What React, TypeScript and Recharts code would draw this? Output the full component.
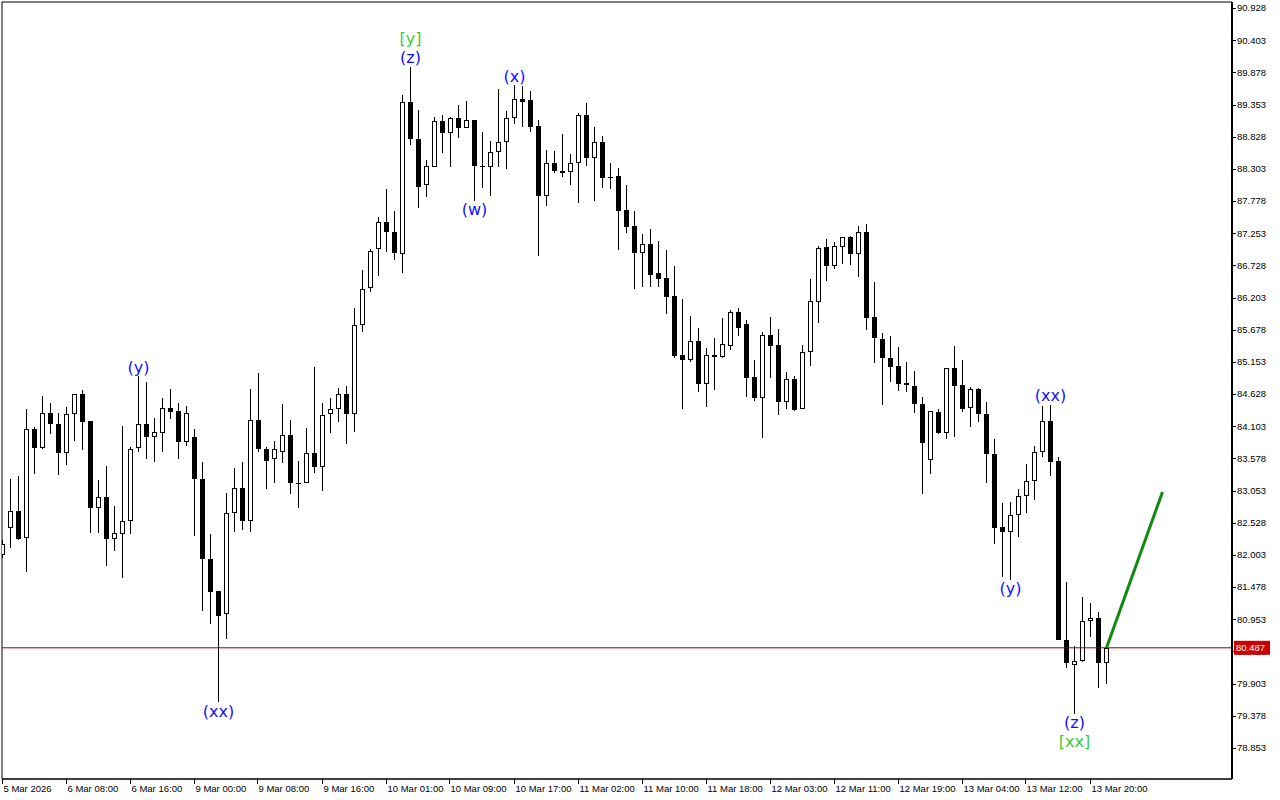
import React from 'react';
import {
  ComposedChart,
  Bar,
  Line,
  Scatter,
  XAxis,
  YAxis,
  ReferenceLine,
  ReferenceArea,
} from 'recharts';

// hourly bars, 5 Mar 23:00 .. 13 Mar 22:00
const opens = [
  82.0, 82.44, 82.72, 82.28, 84.06, 83.75, 84.32, 84.14, 83.67, 84.3,
  84.63, 84.19, 82.77, 82.95, 82.26, 82.35, 82.56, 83.75, 84.14, 83.93,
  83.99, 84.4, 84.35, 83.85, 83.93, 83.24, 81.94, 81.41, 81.04, 82.69,
  83.1, 82.56, 84.21, 83.73, 83.57, 83.68, 83.96, 83.18, 83.18, 83.67,
  83.44, 84.3, 84.38, 84.63, 84.3, 85.76, 86.36, 87.0, 87.44, 87.27,
  86.91, 89.39, 88.79, 88.04, 88.33, 89.08, 88.89, 89.13, 88.97, 89.1,
  88.35, 88.33, 88.58, 88.74, 89.13, 89.44, 89.43, 89.0, 87.86, 88.4,
  88.27, 88.25, 88.4, 89.18, 88.48, 88.74, 88.17, 88.19, 87.63, 87.37,
  86.93, 87.08, 86.6, 86.52, 86.23, 85.27, 85.18, 85.49, 84.79, 85.27,
  85.23, 85.41, 85.97, 85.77, 84.91, 84.56, 85.59, 85.43, 84.5, 84.87,
  84.38, 85.31, 86.13, 87.03, 86.72, 87.03, 87.19, 86.91, 87.27, 85.89,
  85.53, 85.22, 85.09, 84.81, 84.76, 84.47, 83.55, 84.34, 83.99, 85.05,
  84.78, 84.4, 84.71, 84.3, 83.65, 82.46, 82.38, 82.66, 82.97, 83.21,
  83.68, 84.19, 83.54, 80.62, 80.21, 80.27, 80.93, 80.97, 80.24,
];
const highs = [
  82.25, 83.24, 83.29, 84.38, 84.09, 84.6, 84.48, 84.32, 84.42, 84.63,
  84.69, 84.19, 83.23, 83.46, 82.8, 84.11, 83.77, 84.92, 84.83, 84.24,
  84.56, 84.71, 84.48, 84.43, 84.06, 83.52, 82.35, 81.41, 83.01, 83.42,
  83.52, 84.71, 84.97, 83.77, 83.86, 84.47, 84.21, 83.54, 84.08, 85.07,
  84.48, 84.56, 84.73, 84.76, 86.03, 86.65, 87.0, 87.52, 87.97, 87.62,
  89.51, 89.97, 89.26, 88.45, 89.15, 89.18, 89.15, 89.35, 89.41, 89.1,
  88.91, 88.76, 89.61, 89.25, 89.67, 89.66, 89.57, 89.1, 88.61, 88.6,
  88.87, 88.55, 89.22, 89.38, 88.99, 88.84, 88.4, 88.32, 88.04, 87.62,
  87.24, 87.32, 87.13, 86.98, 86.72, 86.18, 85.9, 85.71, 85.38, 85.54,
  85.87, 86.0, 86.03, 85.84, 85.18, 85.64, 85.89, 85.69, 84.99, 84.92,
  85.43, 86.51, 87.04, 87.16, 87.11, 87.19, 87.21, 87.37, 87.4, 86.46,
  85.63, 85.58, 85.4, 85.15, 85.01, 84.58, 84.35, 84.38, 85.05, 85.41,
  85.18, 84.74, 84.73, 84.5, 83.9, 82.85, 82.87, 83.08, 83.49, 83.78,
  84.43, 84.45, 83.6, 81.56, 80.52, 81.32, 81.22, 81.07, 80.5,
];
const lows = [
  81.95, 82.12, 82.25, 81.73, 83.32, 83.73, 83.98, 83.31, 83.47, 83.86,
  83.72, 82.36, 82.36, 81.82, 82.07, 81.63, 82.35, 83.68, 83.57, 83.52,
  83.68, 84.22, 83.57, 83.78, 82.31, 81.09, 80.88, 79.6, 80.63, 82.38,
  82.41, 82.38, 83.68, 83.08, 83.18, 83.5, 83.0, 82.77, 83.18, 83.34,
  83.05, 83.99, 84.17, 83.81, 84.01, 85.64, 86.29, 86.55, 86.95, 86.82,
  86.6, 88.69, 87.67, 87.84, 88.33, 88.56, 88.33, 88.81, 88.97, 87.78,
  87.99, 87.86, 88.33, 88.3, 89.04, 88.99, 88.91, 86.88, 87.7, 88.24,
  88.17, 88.04, 87.75, 88.35, 87.78, 87.99, 87.98, 86.98, 87.26, 86.34,
  86.38, 86.38, 86.38, 85.94, 85.22, 84.38, 85.15, 84.66, 84.42, 84.69,
  85.22, 85.35, 85.58, 84.58, 84.52, 83.91, 84.89, 84.29, 84.38, 84.35,
  84.38, 85.09, 85.79, 86.47, 86.67, 86.75, 86.73, 86.54, 85.67, 85.14,
  84.45, 84.83, 84.68, 84.66, 84.32, 83.0, 83.32, 83.98, 83.9, 83.93,
  84.34, 84.09, 84.17, 83.18, 82.18, 81.64, 81.6, 82.3, 82.69, 82.9,
  83.6, 83.29, 80.62, 80.16, 79.41, 80.26, 80.66, 79.83, 79.9,
];
const closes = [
  82.18, 82.72, 82.26, 84.06, 83.75, 84.32, 84.14, 83.67, 84.3, 84.63,
  84.17, 82.77, 82.95, 82.26, 82.36, 82.56, 83.73, 84.14, 83.93, 84.01,
  84.4, 84.34, 83.85, 84.32, 83.24, 81.94, 81.4, 81.01, 82.69, 83.1,
  82.56, 84.21, 83.73, 83.54, 83.73, 83.96, 83.18, 83.17, 83.67, 83.44,
  84.29, 84.38, 84.63, 84.3, 85.76, 86.34, 86.96, 87.44, 87.27, 86.93,
  89.39, 88.79, 88.01, 88.35, 89.08, 88.89, 89.13, 88.97, 89.1, 88.35,
  88.33, 88.58, 88.74, 89.13, 89.44, 89.39, 88.99, 87.86, 88.4, 88.27,
  88.24, 88.4, 89.18, 88.48, 88.74, 88.15, 88.16, 87.62, 87.35, 86.93,
  87.08, 86.57, 86.51, 86.21, 85.25, 85.18, 85.49, 84.79, 85.27, 85.23,
  85.45, 85.97, 85.71, 84.89, 84.56, 85.59, 85.41, 84.5, 84.87, 84.37,
  85.31, 86.15, 87.01, 86.72, 87.04, 87.19, 86.91, 87.27, 85.87, 85.54,
  85.22, 85.07, 84.79, 84.78, 84.47, 83.83, 84.35, 83.99, 85.05, 84.76,
  84.38, 84.71, 84.3, 83.65, 82.44, 82.38, 82.66, 82.97, 83.21, 83.68,
  84.19, 83.52, 80.62, 80.24, 80.27, 80.93, 80.97, 80.24, 80.487,
];

const timeTicks = [0, 8, 16, 24, 32, 40, 48, 56, 64, 72, 80, 88, 96, 104, 112, 120, 128, 136];
const timeLabels = [
  '5 Mar 2026', '6 Mar 08:00', '6 Mar 16:00', '9 Mar 00:00', '9 Mar 08:00',
  '9 Mar 16:00', '10 Mar 01:00', '10 Mar 09:00', '10 Mar 17:00', '11 Mar 02:00',
  '11 Mar 10:00', '11 Mar 18:00', '12 Mar 03:00', '12 Mar 11:00', '12 Mar 19:00',
  '13 Mar 04:00', '13 Mar 12:00', '13 Mar 20:00',
];
const priceTicks = [
  90.928, 90.403, 89.878, 89.353, 88.828, 88.303, 87.778, 87.253, 86.728,
  86.203, 85.678, 85.153, 84.628, 84.103, 83.578, 83.053, 82.528, 82.003,
  81.478, 80.953, 80.428, 79.903, 79.378, 78.853,
];
const lastPrice = 80.487;
const projection = [
  { i: 138, v: 80.487 },
  { i: 145, v: 83.03 },
];
const waveLabels = [
  { i: 17, text: '(y)', degree: 'minor', side: 'high' },
  { i: 27, text: '(xx)', degree: 'minor', side: 'low' },
  { i: 51, text: '(z)', degree: 'minor', side: 'high' },
  { i: 51, text: '[y]', degree: 'major', side: 'high' },
  { i: 59, text: '(w)', degree: 'minor', side: 'low' },
  { i: 64, text: '(x)', degree: 'minor', side: 'high' },
  { i: 126, text: '(y)', degree: 'minor', side: 'low' },
  { i: 131, text: '(xx)', degree: 'minor', side: 'high' },
  { i: 134, text: '(z)', degree: 'minor', side: 'low' },
  { i: 134, text: '[xx]', degree: 'major', side: 'low' },
];

const X_DOMAIN: [number, number] = [-0.0625, 153.6875];
const Y_DOMAIN: [number, number] = [78.346, 91.026];
const AXIS_FONT = '"Liberation Sans", Arial, sans-serif';

const rows: any[] = opens.map((o, i) => ({ i, o, h: highs[i], l: lows[i], c: closes[i] }));
projection.forEach((p) => {
  const row = rows.find((r) => r.i === p.i);
  if (row) row.proj = p.v;
  else rows.push({ i: p.i, proj: p.v });
});

const waveRows = waveLabels.map((w) => ({
  ...w,
  y: w.side === 'high' ? highs[w.i] : lows[w.i],
}));

// tick just above/below the last price: the price tag is drawn with it so it sits on top
const tagTick = priceTicks.reduce((best, t) =>
  Math.abs(t - lastPrice) < Math.abs(best - lastPrice) ? t : best,
);

function Candle(props: any) {
  const { x, y, width, height, payload } = props;
  if (!payload || payload.o == null || y == null || height == null) return null;
  const { o, h, l, c } = payload;
  const top = Math.min(y, y + height);
  const span = Math.abs(height);
  const toY = (v: number) => (h === l ? top : top + ((h - v) / (h - l)) * span);
  const cx = Math.round(x + width / 2 - 0.5) + 0.5;
  const yHigh = Math.round(toY(h));
  const yLow = Math.round(toY(l));
  const bTop = Math.round(toY(Math.max(o, c)));
  const bBot = Math.round(toY(Math.min(o, c)));
  const bull = c > o;
  let body;
  if (bBot - bTop < 2) {
    body = <rect x={cx - 2.5} y={bTop} width={5} height={Math.max(1, bBot - bTop)} fill="#000" />;
  } else if (bull) {
    body = (
      <rect x={cx - 2} y={bTop + 0.5} width={4} height={bBot - bTop - 1} fill="#fff" stroke="#000" strokeWidth={1} />
    );
  } else {
    body = <rect x={cx - 2.5} y={bTop} width={5} height={bBot - bTop} fill="#000" />;
  }
  return (
    <g>
      <line x1={cx} x2={cx} y1={yHigh} y2={yLow} stroke="#000" strokeWidth={1} />
      {body}
    </g>
  );
}

function WaveMark(props: any) {
  const { cx, cy, payload } = props;
  if (cx == null || cy == null) return null;
  const step = payload.degree === 'major' ? 28 : 9;
  const ty = payload.side === 'high' ? cy - step : cy + step;
  return (
    <text
      x={cx}
      y={ty}
      textAnchor="middle"
      dominantBaseline="central"
      fontSize={16}
      fontFamily='"DejaVu Sans", Verdana, sans-serif'
      fill={payload.degree === 'major' ? '#3cc83c' : '#1010ff'}
    >
      {payload.text}
    </text>
  );
}

function PriceTick(props: any) {
  const { x, y, payload, yAxis } = props;
  const ty = Math.round(y) + 0.5;
  let tag = null;
  if (payload.value === tagTick) {
    // y of last price, from the tick spacing of the axis
    const pxPerUnit = 777 / (Y_DOMAIN[1] - Y_DOMAIN[0]);
    const py = y - (lastPrice - payload.value) * pxPerUnit;
    tag = (
      <g>
        <rect x={x + 2} y={py - 7} width={36} height={14} fill="#cc0000" />
        <text x={x + 4} y={py} dy="0.35em" fontSize={9.5} fontFamily={AXIS_FONT} fill="#fff">
          {lastPrice.toFixed(3)}
        </text>
      </g>
    );
  }
  return (
    <g>
      <line x1={x + 1} x2={x + 4} y1={ty} y2={ty} stroke="#000" />
      <text x={x + 5} y={y} dy="0.35em" fontSize={9.5} fontFamily={AXIS_FONT} fill="#000">
        {Number(payload.value).toFixed(3)}
      </text>
      {tag}
    </g>
  );
}

function TimeTick(props: any) {
  const { x, y, payload } = props;
  const k = timeTicks.indexOf(payload.value);
  const tx = Math.round(x) - 0.5;
  return (
    <g>
      <line x1={tx} x2={tx} y1={y} y2={y + 5} stroke="#000" />
      <text x={tx + 1} y={y + 13} fontSize={9.5} fontFamily={AXIS_FONT} fill="#000">
        {k >= 0 ? timeLabels[k] : ''}
      </text>
    </g>
  );
}

export default function App() {
  return (
    <div style={{ position: 'absolute', left: 0, top: 0, width: 1280, height: 800, background: '#fff' }}>
      <ComposedChart width={1280} height={800} data={rows} margin={{ top: 2, right: 0, bottom: 0, left: 2 }}>
        <XAxis
          dataKey="i"
          type="number"
          domain={X_DOMAIN}
          allowDataOverflow
          ticks={timeTicks}
          interval={0}
          height={21}
          tickSize={0}
          tickMargin={0}
          tickLine={false}
          axisLine={{ stroke: '#000' }}
          tick={<TimeTick />}
        />
        <YAxis
          orientation="right"
          type="number"
          domain={Y_DOMAIN}
          allowDataOverflow
          ticks={priceTicks}
          interval={0}
          width={48}
          tickSize={0}
          tickMargin={0}
          tickLine={false}
          axisLine={{ stroke: '#000', strokeWidth: 2 }}
          tick={<PriceTick />}
        />
        <ReferenceArea
          x1={X_DOMAIN[0]}
          x2={X_DOMAIN[1]}
          y1={Y_DOMAIN[0]}
          y2={Y_DOMAIN[1]}
          fill="none"
          fillOpacity={0}
          stroke="#000"
          strokeWidth={1}
        />
        <ReferenceLine y={lastPrice} stroke="#8b0000" strokeWidth={1} />
        <Bar
          dataKey={(d: any) => (d.o == null ? null : [d.l, d.h])}
          barSize={5}
          shape={<Candle />}
          isAnimationActive={false}
        />
        <Line
          dataKey="proj"
          connectNulls
          dot={false}
          activeDot={false}
          stroke="#118a11"
          strokeWidth={3}
          isAnimationActive={false}
        />
        <Scatter data={waveRows} dataKey="y" shape={<WaveMark />} isAnimationActive={false} />
      </ComposedChart>
    </div>
  );
}
